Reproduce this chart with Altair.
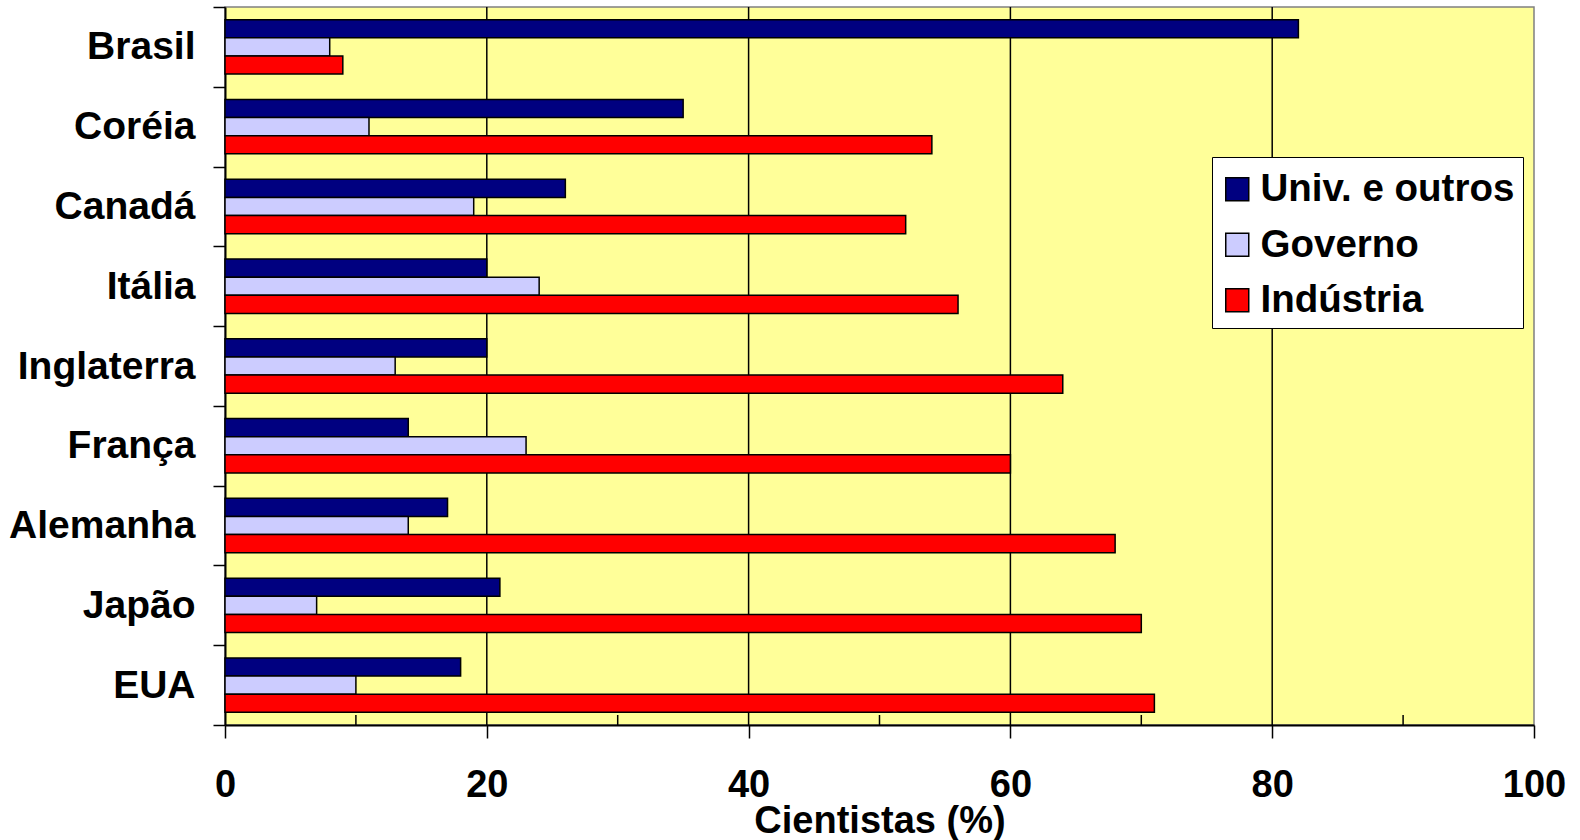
import altair as alt
import pandas as pd

# Share of scientists by sector of employment, per country
paises = ["Brasil", "Coréia", "Canadá", "Itália", "Inglaterra",
          "França", "Alemanha", "Japão", "EUA"]
series = ["Univ. e outros", "Governo", "Indústria"]
univ = [82, 35, 26, 20, 20, 14, 17, 21, 18]
governo = [8, 11, 19, 24, 13, 23, 14, 7, 10]
industria = [9, 54, 52, 56, 64, 60, 68, 70, 71]
cores = ["#000080", "#CCCCFF", "#FF0000"]

grid_values = [20, 40, 60, 80]
minor_ticks = [10, 30, 50, 70, 90]
major_ticks = [0, 20, 40, 60, 80, 100]

rows = []
for i, p in enumerate(paises):
    for s, vals in zip(series, [univ, governo, industria]):
        rows.append({"pais": p, "serie": s, "valor": vals[i]})
df = pd.DataFrame(rows)

FONT = "Liberation Sans"
x_scale = alt.Scale(domain=[0, 100], nice=False, zero=True)
x_axis = alt.Axis(
    values=major_ticks,
    grid=False,
    tickSize=13,
    tickColor="black",
    tickWidth=1.5,
    domainColor="black",
    domainWidth=2,
    labelFontSize=38,
    labelFontWeight="bold",
    labelFont=FONT,
    labelColor="black",
    labelPadding=28,
    labelFlush=False,
    labelOverlap=False,
    titleFontSize=38,
    titleFontWeight="bold",
    titleFont=FONT,
    titleColor="black",
    titleBaseline="alphabetic",
    titleY=107,
)
TITLE_X = "Cientistas (%)"

grid = alt.Chart(pd.DataFrame({"v": grid_values})).mark_rule(
    color="black", strokeWidth=1.5
).encode(x=alt.X("v:Q", scale=x_scale, axis=x_axis, title=TITLE_X))

bars = alt.Chart(df).mark_bar(stroke="black", strokeWidth=1.5).encode(
    y=alt.Y(
        "pais:N",
        sort=paises,
        scale=alt.Scale(paddingInner=0, paddingOuter=0),
        axis=alt.Axis(
            title=None,
            tickBand="extent",
            tickSize=12,
            tickColor="black",
            tickWidth=1.5,
            domainColor="black",
            domainWidth=2,
            labelFontSize=39,
            labelFontWeight="bold",
            labelFont=FONT,
            labelColor="black",
            labelPadding=18,
            labelLimit=0,
        ),
    ),
    yOffset=alt.YOffset(
        "serie:N", sort=series,
        scale=alt.Scale(paddingInner=0, paddingOuter=0.7),
    ),
    x=alt.X("valor:Q", scale=x_scale, axis=x_axis, title=TITLE_X),
    color=alt.Color(
        "serie:N",
        sort=series,
        scale=alt.Scale(domain=series, range=cores),
        legend=alt.Legend(
            title=" ",
            titleFontSize=1,
            titlePadding=4,
            orient="none",
            legendX=987,
            legendY=150,
            fillColor="white",
            strokeColor="black",
            padding=8,
            symbolType="square",
            symbolSize=529,
            symbolOffset=-2,
            symbolStrokeColor="black",
            symbolStrokeWidth=1.5,
            labelFontSize=38.5,
            labelFontWeight="bold",
            labelFont=FONT,
            labelColor="black",
            labelOffset=4,
            labelLimit=0,
            rowPadding=16.5,
        ),
    ),
)

minor = alt.Chart(pd.DataFrame({"v": minor_ticks})).mark_rule(
    color="black", strokeWidth=1.5
).encode(
    x=alt.X("v:Q", scale=x_scale, axis=x_axis, title=TITLE_X),
    y=alt.value(708),
    y2=alt.value(718),
)

chart = alt.layer(grid, bars, minor).properties(
    width=1309,
    height=718,
    padding={"left": 225, "top": 7, "right": 46, "bottom": 115},
    autosize=alt.AutoSizeParams(type="none"),
    background="white",
).configure_view(
    fill="#FFFF99", stroke="#808080", strokeWidth=1.5
)

chart.save("out.html", embed_options={"renderer": "svg", "actions": False})
